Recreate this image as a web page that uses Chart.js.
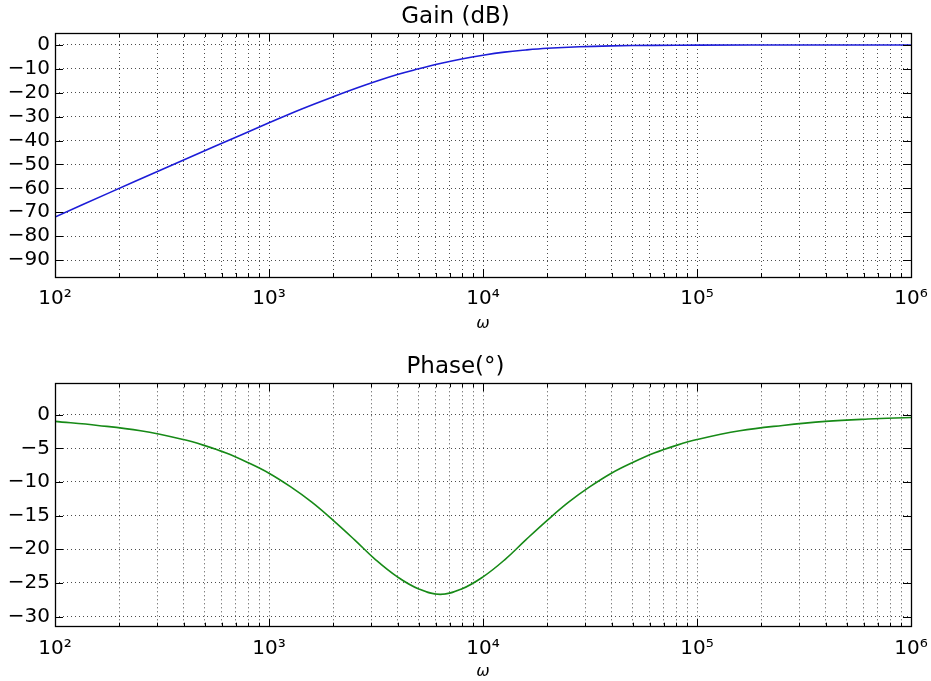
<!DOCTYPE html>
<html>
<head>
<meta charset="utf-8">
<script src="https://cdn.jsdelivr.net/npm/chart.js@4.4.1/dist/chart.umd.min.js"></script>
<style>
html, body { margin: 0; padding: 0; background: #fff; }
#wrap { position: relative; width: 931px; height: 681px; }
canvas { position: absolute; left: 0; }
</style>
</head>
<body>
<div id="wrap">
  <canvas id="gainchart" width="931" height="340" style="top:0px"></canvas>
  <canvas id="phasechart" width="931" height="341" style="top:340px"></canvas>
</div>
<script>
// values
var gainOmega = [100, 177.8, 316.2, 562.3, 1000, 1413, 1995, 2818, 3981, 5012, 6310, 7943,
  10000, 12589, 15849, 19953, 28184, 39811, 63096, 100000, 316228, 1000000];
var gainDb = [-72.0, -62.0, -52.1, -42.3, -32.6, -26.9, -21.7, -16.8, -12.4, -10.0, -7.8, -5.9,
  -4.3, -3.0, -2.1, -1.4, -0.75, -0.4, -0.17, -0.08, -0.02, 0];

var phaseOmega = [100, 158.5, 251.2, 398.1, 501.2, 631.0, 794.3, 1000, 1259, 1585, 1995, 2512,
  3162, 3981, 5012, 6310, 7943, 10000, 12589, 15849, 19953, 25119, 31623, 39811, 50119, 63096,
  79433, 100000, 158489, 251189, 398107, 630957, 1000000];
var phaseDeg = [-1.0, -1.6, -2.4, -3.7, -4.6, -5.7, -7.1, -8.7, -10.7, -13.0, -15.7, -18.6,
  -21.6, -24.1, -25.9, -26.7, -25.9, -24.1, -21.6, -18.6, -15.7, -13.0, -10.7, -8.7, -7.1, -5.7,
  -4.6, -3.7, -2.4, -1.6, -1.0, -0.65, -0.42];

var gainTicks = [0, -10, -20, -30, -40, -50, -60, -70, -80, -90];
var phaseTicks = [0, -5, -10, -15, -20, -25, -30];
var decades = [1e2, 1e3, 1e4, 1e5, 1e6];
var decadeLabels = ['10\u00b2', '10\u00b3', '10\u2074', '10\u2075', '10\u2076'];

Chart.defaults.font.family = "'DejaVu Sans', sans-serif";
Chart.defaults.font.size = 20;
Chart.defaults.color = '#000';

// grid at every 1..9 x decade, labels only on decades
var logGrid = [];
decades.forEach(function (d, i) {
  if (i == decades.length - 1) { logGrid.push(d); return; }
  for (var k = 1; k < 10; k++) logGrid.push(d * k);
});

function minusLabel(v) {
  return v < 0 ? '\u2212' + Math.abs(v) : '' + v;
}

// axes frame + inward tick marks, matplotlib style
var framePlugin = {
  id: 'frame',
  afterDraw: function (chart) {
    var a = chart.chartArea, ctx = chart.ctx;
    var xs = chart.scales.x, ys = chart.scales.y;
    ctx.save();
    ctx.strokeStyle = '#000';
    ctx.lineWidth = 1;
    ctx.beginPath();
    xs.ticks.forEach(function (t) {
      var px = Math.round(xs.getPixelForValue(t.value)) + 0.5;
      var len = decades.indexOf(t.value) >= 0 ? 8 : 4;
      ctx.moveTo(px, a.top); ctx.lineTo(px, a.top + len);
      ctx.moveTo(px, a.bottom); ctx.lineTo(px, a.bottom - len);
    });
    ys.ticks.forEach(function (t) {
      var py = Math.round(ys.getPixelForValue(t.value)) + 0.5;
      ctx.moveTo(a.left, py); ctx.lineTo(a.left + 8, py);
      ctx.moveTo(a.right, py); ctx.lineTo(a.right - 8, py);
    });
    ctx.stroke();
    ctx.lineWidth = 1.3;
    ctx.strokeRect(Math.round(a.left) + 0.5, Math.round(a.top) + 0.5,
      Math.round(a.right - a.left), Math.round(a.bottom - a.top));
    ctx.restore();
  }
};

function makeChart(id, omega, values, color, title, yMin, yMax, yTicks, lay) {
  var points = omega.map(function (w, i) { return { x: w, y: values[i] }; });
  return new Chart(document.getElementById(id), {
    type: 'line',
    data: {
      datasets: [{
        data: points,
        borderColor: color,
        borderWidth: 1.6,
        pointRadius: 0,
        fill: false,
        tension: 0.4
      }]
    },
    options: {
      responsive: false,
      animation: false,
      layout: { padding: { left: 0, right: 20, top: 0, bottom: 0 } },
      plugins: {
        legend: { display: false },
        tooltip: { enabled: false },
        title: {
          display: true,
          text: title,
          color: '#000',
          font: { size: 23, weight: 'normal' },
          padding: { top: lay.titleTop, bottom: lay.titleBottom }
        }
      },
      scales: {
        x: {
          type: 'logarithmic',
          min: 100,
          max: 1e6,
          afterBuildTicks: function (s) {
            s.ticks = logGrid.map(function (v) { return { value: v }; });
          },
          afterFit: function (s) {
            s.height = lay.xHeight;
            s.paddingLeft = 0;
            s.paddingRight = 0;
          },
          ticks: {
            autoSkip: false,
            maxRotation: 0,
            minRotation: 0,
            padding: 10,
            callback: function (v) {
              var i = decades.indexOf(v);
              return i >= 0 ? decadeLabels[i] : '';
            }
          },
          grid: { color: 'rgba(0,0,0,0.7)', lineWidth: 1, drawTicks: false },
          border: { display: false, dash: [1, 3] },
          title: {
            display: true,
            text: '\u03c9',
            color: '#000',
            font: { size: 16, style: 'italic', lineHeight: 1 },
            padding: { top: 0, bottom: lay.omegaPad }
          }
        },
        y: {
          min: yMin,
          max: yMax,
          afterBuildTicks: function (s) {
            s.ticks = yTicks.map(function (v) { return { value: v }; });
          },
          afterFit: function (s) {
            s.width = 55;
            s.paddingTop = 0;
            s.paddingBottom = 0;
          },
          ticks: { padding: 5, callback: minusLabel },
          grid: { color: 'rgba(0,0,0,0.7)', lineWidth: 1, drawTicks: false },
          border: { display: false, dash: [1, 3] }
        }
      }
    },
    plugins: [framePlugin]
  });
}

makeChart('gainchart', gainOmega, gainDb, '#1c1cd8', 'Gain (dB)', -97.1, 5.0, gainTicks,
  { titleTop: 3.2, titleBottom: 2.2, xHeight: 63, omegaPad: 8 });
makeChart('phasechart', phaseOmega, phaseDeg, '#178a17', 'Phase(\u00b0)', -31.5, 4.66, phaseTicks,
  { titleTop: 13.2, titleBottom: 2.5, xHeight: 54.3, omegaPad: 1 });
</script>
</body>
</html>
